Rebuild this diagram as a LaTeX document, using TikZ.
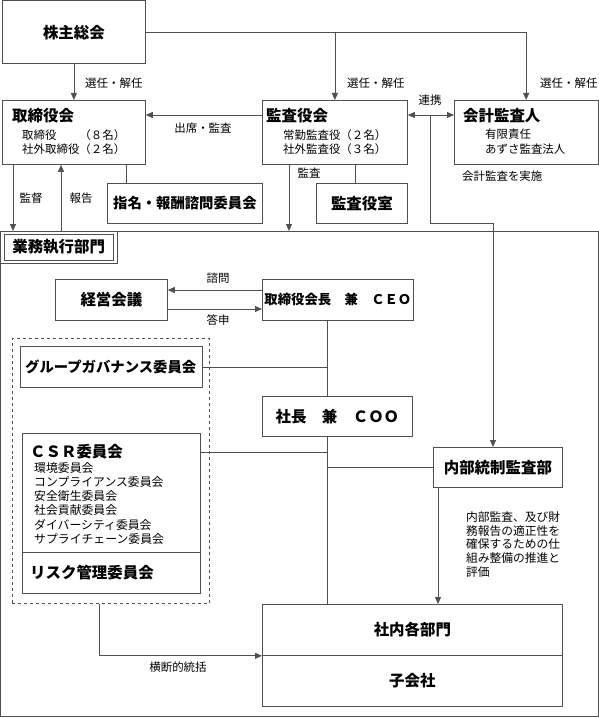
\documentclass[tikz,border=0pt]{standalone}
\usepackage{fontspec}
\setmainfont{Noto Sans CJK JP}
\usetikzlibrary{arrows.meta,calc}
\definecolor{lc}{RGB}{80,80,80}
\tikzset{
  box/.style={draw=lc, line width=0.8bp, rectangle, inner sep=0pt, anchor=north west},
  ttl/.style={font=\fontsize{15.5}{18}\selectfont\bfseries, inner sep=0pt},
  sm/.style={font=\fontsize{11.5}{14.5}\selectfont, inner sep=0pt, align=left},
  lbl/.style={font=\fontsize{11.5}{14}\selectfont, inner sep=0pt, align=left},
  ln/.style={draw=lc, line width=0.8bp},
  arr/.style={ln, -{Triangle[length=7bp,width=6bp]}},
  arrb/.style={ln, {Triangle[length=7bp,width=6bp]}-{Triangle[length=7bp,width=6bp]}},
}
\begin{document}
\begin{tikzpicture}[x=1bp,y=-1bp]
\useasboundingbox (0,0) rectangle (599,718);
% boxes
\node[box, minimum width=143bp, minimum height=62.5bp] (gm) at (2,0.5) {};
\node[box, minimum width=143bp, minimum height=64bp] (board) at (2,100) {};
\node[box, minimum width=145bp, minimum height=64bp] (kansa) at (262,100) {};
\node[box, minimum width=143.5bp, minimum height=64bp] (acct) at (454,100) {};
\node[box, minimum width=155bp, minimum height=40bp] (nomi) at (107,183) {};
\node[box, minimum width=91bp, minimum height=40bp] (kroom) at (316,183) {};
\node[box, minimum width=597bp, minimum height=485bp] (exec) at (0.5,231) {};
\node[box, minimum width=116.5bp, minimum height=32bp] (execout) at (0.5,231) {};
\node[box, minimum width=109.5bp, minimum height=25.5bp] (execlbl) at (3.5,234) {};
\node[box, minimum width=112bp, minimum height=41bp] (keiei) at (55,279) {};
\node[box, minimum width=151bp, minimum height=41bp] (ceo) at (262,279) {};
\node[box, dashed, minimum width=197bp, minimum height=265bp] (dash) at (12,338) {};
\node[box, minimum width=182bp, minimum height=41bp] (group) at (20,346) {};
\node[box, minimum width=150bp, minimum height=40bp] (coo) at (262,396) {};
\node[box, minimum width=178bp, minimum height=119bp] (csr) at (22,433) {};
\node[box, minimum width=178bp, minimum height=41bp] (risk) at (22,552) {};
\node[box, minimum width=129bp, minimum height=40bp] (naibu) at (433,447) {};
\node[box, minimum width=300bp, minimum height=51bp] (shanai) at (262,604) {};
\node[box, minimum width=300bp, minimum height=51bp] (kogai) at (262,655) {};
% texts in boxes
\node[ttl] (t1) at (gm.center) {株主総会};
\node[ttl, anchor=west] (t2) at (12,116) {取締役会};
\node[sm, anchor=north west] (s2) at (22,129) {取締役　　（８名）\\社外取締役（２名）};
\node[ttl, anchor=west] (t3) at (266,116) {監査役会};
\node[sm, anchor=north west] (s3) at (283,129) {常勤監査役（２名）\\社外監査役（３名）};
\node[ttl, anchor=west] (t4) at (463,116) {会計監査人};
\node[sm, anchor=north west] (s4) at (485,129) {有限責任\\あずさ監査法人};
\node[ttl, font=\fontsize{14.4}{17}\selectfont\bfseries] (t5) at (nomi.center) {指名・報酬諮問委員会};
\node[ttl] (t6) at (kroom.center) {監査役室};
\node[ttl] (t7) at (execlbl.center) {業務執行部門};
\node[ttl] (t8) at (keiei.center) {経営会議};
\node[ttl, font=\fontsize{13.4}{16}\selectfont\bfseries] (t9) at (ceo.center) {取締役会長　兼　ＣＥＯ};
\node[ttl, font=\fontsize{14.4}{17}\selectfont\bfseries, anchor=west] (t10) at (25,367) {グループガバナンス委員会};
\node[ttl] (t11) at (coo.center) {社長　兼　ＣＯＯ};
\node[ttl, anchor=west] (t12) at (30,452) {ＣＳＲ委員会};
\node[sm, font=\fontsize{11.9}{14.3}\selectfont, anchor=north west] (s12) at (34,462) {環境委員会\\コンプライアンス委員会\\安全衛生委員会\\社会貢献委員会\\ダイバーシティ委員会\\サプライチェーン委員会};
\node[ttl, anchor=west] (t13) at (30,573) {リスク管理委員会};
\node[ttl] (t14) at (naibu.center) {内部統制監査部};
\node[ttl] (t15) at (shanai.center) {社内各部門};
\node[ttl] (t16) at (kogai.center) {子会社};
% connectors top
\draw[arr] (gm.south) -- (board.north);
\draw[arr] (gm.east) -| (acct.north);
\draw[arr] (gm.east -| kansa.north) -- (kansa.north);
\draw[arr] ($(kansa.north west)+(0,15)$) -- ($(board.north east)+(0,15)$);
\draw[arrb] ($(kansa.north east)+(0,15)$) -- ($(acct.north west)+(0,15)$);
\coordinate (rk) at (430,115);
\coordinate (c2) at (493,223);
\draw[arr] (rk) |- (c2) -- (c2 |- naibu.north);
\path (board.south west) ++(124,0) coordinate (b1);
\draw[ln] (b1) -- (b1 |- nomi.north);
\path (kansa.south west) ++(93,0) coordinate (b2);
\draw[ln] (b2) -- (b2 |- kroom.north);
\path (board.south west) ++(11,0) coordinate (k1);
\draw[arr] (k1) -- (k1 |- exec.north);
\path (board.south west) ++(59,0) coordinate (k2);
\draw[arr] (k2 |- exec.north) -- (k2);
\path (kansa.south west) ++(27,0) coordinate (k3);
\draw[arr] (k3) -- (k3 |- exec.north);
% middle
\coordinate (y1) at (0,290);
\coordinate (y2) at (0,309);
\draw[arr] (ceo.west |- y1) -- (keiei.east |- y1);
\draw[arr] (keiei.east |- y2) -- (ceo.west |- y2);
\coordinate (vx) at (327,0);
\draw[ln] (ceo.south -| vx) -- (coo.north -| vx);
\draw[ln] (group.east) -- (group.east -| vx);
\draw[ln] (coo.south -| vx) -- (shanai.north -| vx);
\path (csr.north east) ++(0,19) coordinate (c3);
\draw[ln] (c3) -- (c3 -| vx);
\draw[ln] (naibu.west) -- (naibu.west -| vx);
\path (naibu.south west) ++(5,0) coordinate (c4);
\draw[arr] (c4) -- (c4 |- shanai.north);
\path (dash.south west) ++(87,0) coordinate (c5);
\draw[arr] (c5) |- (shanai.south west);
% labels
\node[lbl, anchor=west] (l1) at (85,83) {選任・解任};
\node[lbl, anchor=west] (l2) at (347,83) {選任・解任};
\node[lbl, anchor=west] (l3) at (540,83) {選任・解任};
\node[lbl] (l4) at (430,100) {連携};
\node[lbl] (l5) at (203,128) {出席・監査};
\node[lbl] (l6) at (31,198) {監督};
\node[lbl] (l7) at (81,198) {報告};
\node[lbl] (l8) at (309,173) {監査};
\node[lbl, anchor=west] (l9) at (462,176) {会計監査を実施};
\node[lbl] (l10) at (218,278) {諮問};
\node[lbl] (l11) at (218,320) {答申};
\node[lbl] (l12) at (178,667) {横断的統括};
\node[lbl, font=\fontsize{11.8}{14}\selectfont, anchor=north west] (l13) at (466,511) {内部監査、及び財\\務報告の適正性を\\確保するための仕\\組み整備の推進と\\評価};
\end{tikzpicture}
\end{document}
